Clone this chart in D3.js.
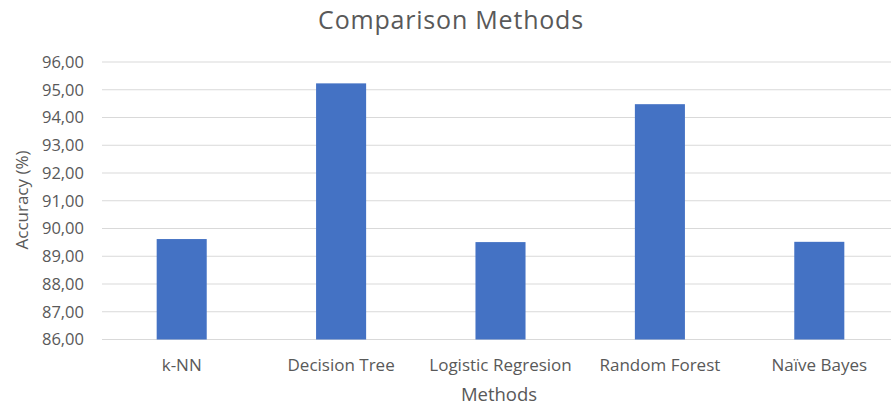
<!DOCTYPE html>
<html><head><meta charset="utf-8">
<script src="https://cdn.jsdelivr.net/npm/d3@7"></script>
<style>body{margin:0;background:#fff}svg{display:block}</style>
</head><body>
<script>
const categories = ["k-NN","Decision Tree","Logistic Regresion","Random Forest","Naïve Bayes"];
const values = [89.62, 95.23, 89.51, 94.48, 89.52];
const yTicks = [86,87,88,89,90,91,92,93,94,95,96];
const chartTitle = "Comparison Methods";
const xTitle = "Methods";
const yTitle = "Accuracy (%)";

const W = 891, H = 407;
const font = "'Open Sans', 'Liberation Sans', sans-serif";
const svg = d3.select("body").append("svg").attr("width", W).attr("height", H);

const x = d3.scaleBand().domain(categories).range([102, 899]).paddingInner(0.686).paddingOuter(0.343);
const y = d3.scaleLinear().domain([86, 96]).range([339.5, 62]);

// gridlines
svg.append("g").selectAll("line").data(yTicks).join("line")
  .attr("x1", 102).attr("x2", 899)
  .attr("y1", d => y(d)).attr("y2", d => y(d))
  .attr("stroke", "#d9d9d9").attr("stroke-width", 1);

// y axis labels
const yAxis = d3.axisLeft(y).tickValues(yTicks).tickSize(0).tickPadding(0)
  .tickFormat(d => d3.format(".2f")(d).replace(".", ","));
const gy = svg.append("g").attr("transform", "translate(84,0)").call(yAxis);
gy.select(".domain").remove();
gy.selectAll("text").attr("font-family", font).attr("font-size", 16.5).attr("fill", "#595959");

// bars
svg.append("g").selectAll("rect").data(values).join("rect")
  .attr("x", (d, i) => x(categories[i]))
  .attr("width", x.bandwidth())
  .attr("y", d => y(d))
  .attr("height", d => y(86) - y(d))
  .attr("fill", "#4472c4");

// x axis labels
const xAxis = d3.axisBottom(x).tickSize(0).tickPadding(0);
const gx = svg.append("g").attr("transform", "translate(0,359)").call(xAxis);
gx.select(".domain").remove();
gx.selectAll("text").attr("font-family", font).attr("font-size", 17).attr("fill", "#595959");

// titles
svg.append("text").attr("x", 451).attr("y", 29).attr("text-anchor", "middle")
  .attr("font-family", font).attr("font-size", 25).attr("letter-spacing", 0.8)
  .attr("fill", "#595959").text(chartTitle);
svg.append("text").attr("x", 499).attr("y", 401).attr("text-anchor", "middle")
  .attr("font-family", font).attr("font-size", 18.5).attr("fill", "#595959").text(xTitle);
svg.append("text").attr("transform", "translate(28,200) rotate(-90)").attr("text-anchor", "middle")
  .attr("font-family", font).attr("font-size", 17).attr("fill", "#595959").text(yTitle);
</script>
</body></html>
